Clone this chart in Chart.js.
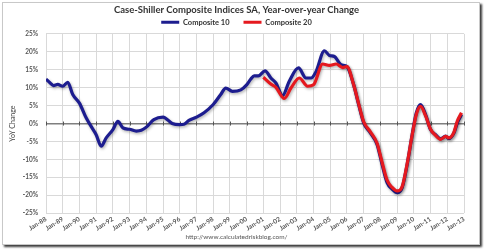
<!DOCTYPE html>
<html lang="en">
<head>
  <meta charset="UTF-8">
  <title>Case-Shiller Composite Indices</title>
  <script src="https://cdn.jsdelivr.net/npm/chart.js"></script>
  <style>
    body {
      margin: 0;
      background: #fff;
    }
    .chart-box {
      position: absolute;
      left: 2px;
      top: 2px;
      width: 476px;
      height: 241px;
      border: 1px solid #c8c8c8;
      box-shadow: 2px 2px 2px #3a3a3a;
      background: #fff;
    }
    canvas {
      width: 100% !important;
      height: 100% !important;
    }
  </style>
</head>
<body>

  <div class="chart-box">
    <canvas id="myChart"></canvas>
  </div>

  <script>
    // year-over-year change (x in decimal years)
    const comp10Dates = [1988.0, 1988.25, 1988.45, 1988.7, 1989.0, 1989.3, 1989.6, 1990.0, 1990.4, 1990.7,
      1991.0, 1991.3, 1991.6, 1992.0, 1992.3, 1992.6, 1993.0, 1993.4, 1993.7, 1994.0,
      1994.45, 1995.0, 1995.55, 1996.0, 1996.25, 1996.55, 1997.0, 1997.45, 1998.0, 1998.45,
      1998.75, 1999.15, 1999.65, 2000.0, 2000.25, 2000.45, 2000.7, 2001.1, 2001.45, 2001.75,
      2002.15, 2002.55, 2003.1, 2003.55, 2003.85, 2004.15, 2004.65, 2004.95, 2005.25, 2005.65,
      2006.0, 2006.4, 2006.7, 2007.0, 2007.4, 2007.8, 2008.1, 2008.4, 2008.7, 2009.0,
      2009.3, 2009.6, 2009.9, 2010.15, 2010.4, 2010.7, 2011.0, 2011.3, 2011.6, 2011.9,
      2012.1, 2012.4, 2012.6, 2012.85];
    const comp10Values = [12.4, 11.3, 10.6, 10.9, 10.4, 11.5, 8.1, 5.7, 1.6, -0.8,
      -3.1, -6.3, -4.0, -1.7, 0.6, -1.2, -1.6, -2.1, -1.9, -1.0,
      1.1, 1.8, 0.0, -0.3, -0.2, 0.9, 1.8, 3.0, 5.3, 8.1,
      9.9, 9.0, 9.4, 10.8, 12.4, 13.3, 13.3, 14.7, 12.7, 11.3,
      7.8, 11.8, 15.5, 12.7, 12.7, 14.5, 20.3, 19.0, 18.7, 16.4,
      15.9, 10.8, 5.3, 0.2, -2.6, -5.8, -11.4, -16.5, -18.3, -19.3,
      -17.9, -11.4, -3.1, 3.0, 5.3, 2.5, -1.7, -3.1, -4.3, -3.5,
      -4.2, -2.6, 0.2, 2.5];

    const comp20Dates = [2001.0, 2001.45, 2001.75, 2002.25, 2002.65, 2003.15, 2003.65, 2004.0, 2004.55, 2004.95,
      2005.35, 2005.75, 2006.0, 2006.4, 2006.7, 2007.0, 2007.4, 2007.8, 2008.1, 2008.4,
      2008.7, 2009.0, 2009.3, 2009.6, 2009.9, 2010.15, 2010.4, 2010.7, 2011.0, 2011.3,
      2011.6, 2011.9, 2012.1, 2012.4, 2012.6, 2012.85];
    const comp20Values = [12.9, 11.0, 10.1, 7.0, 9.9, 12.7, 10.4, 10.8, 16.6, 16.2,
      16.6, 15.6, 15.9, 10.8, 5.5, 0.5, -2.3, -5.5, -10.8, -15.8,
      -17.8, -18.8, -17.6, -11.2, -3.2, 2.6, 4.8, 2.2, -1.6, -3.3,
      -4.4, -3.6, -4.0, -2.4, 0.7, 3.0];

    const seriesNames = ['Composite 10', 'Composite 20'];
    const yTicks = [25, 20, 15, 10, 5, 0, -5, -10, -15, -20, -25];
    const firstYear = 1988;
    const lastYear = 2013;

    const FONT = 'Lato, "Open Sans", sans-serif';

    function toPoints(xs, ys) {
      return xs.map((x, i) => ({ x: x, y: ys[i] }));
    }

    // small tick marks on the zero line, like the Excel category axis
    const zeroTicks = {
      id: 'zeroTicks',
      beforeDatasetsDraw(chart) {
        const ctx = chart.ctx;
        const xs = chart.scales.x;
        const y0 = chart.scales.y.getPixelForValue(0);
        ctx.save();
        ctx.strokeStyle = '#555';
        ctx.lineWidth = 1;
        for (let yr = firstYear; yr <= lastYear; yr++) {
          const px = Math.round(xs.getPixelForValue(yr)) + 0.5;
          ctx.beginPath();
          ctx.moveTo(px, y0 + 2);
          ctx.lineTo(px, y0 - 2);
          ctx.stroke();
        }
        ctx.restore();
      }
    };

    // soft shadow under the lines (Excel glow look)
    const lineShadow = {
      id: 'lineShadow',
      beforeDatasetDraw(chart) {
        const ctx = chart.ctx;
        ctx.save();
        ctx.shadowColor = 'rgba(0,0,0,0.3)';
        ctx.shadowBlur = 3;
        ctx.shadowOffsetX = 1;
        ctx.shadowOffsetY = 1.5;
      },
      afterDatasetDraw(chart) {
        chart.ctx.restore();
      }
    };

    const defaultLabels = Chart.defaults.plugins.legend.labels.generateLabels;

    new Chart(document.getElementById('myChart'), {
      type: 'line',
      data: {
        datasets: [
          {
            label: seriesNames[0],
            data: toPoints(comp10Dates, comp10Values),
            borderColor: '#1d1d8f',
            backgroundColor: '#1d1d8f',
            borderWidth: 3.2,
            pointRadius: 0,
            cubicInterpolationMode: 'monotone',
            order: 1
          },
          {
            label: seriesNames[1],
            data: toPoints(comp20Dates, comp20Values),
            borderColor: '#e5191f',
            backgroundColor: '#e5191f',
            borderWidth: 3.2,
            pointRadius: 0,
            cubicInterpolationMode: 'monotone',
            order: 0
          }
        ]
      },
      options: {
        responsive: true,
        maintainAspectRatio: false,
        animation: false,
        layout: {
          padding: { left: 6, right: 15, top: 1, bottom: 3 }
        },
        plugins: {
          title: {
            display: true,
            text: 'Case-Shiller Composite Indices SA, Year-over-year Change',
            color: '#333',
            font: { family: FONT, size: 9.5, weight: 'bold' },
            padding: { top: 0, bottom: -11 }
          },
          legend: {
            display: true,
            position: 'top',
            maxHeight: 29.5,
            labels: {
              usePointStyle: true,
              pointStyle: 'line',
              pointStyleWidth: 18,
              boxWidth: 18,
              boxHeight: 3,
              padding: 14,
              color: '#333',
              font: { family: FONT, size: 7.5, weight: 'bold' },
              sort: (a, b) => a.datasetIndex - b.datasetIndex,
              generateLabels: (chart) => {
                const items = defaultLabels(chart);
                items.forEach((it) => { it.lineWidth = 3; });
                return items;
              }
            }
          },
          subtitle: {
            display: true,
            position: 'bottom',
            text: 'http://www.calculatedriskblog.com/',
            color: '#555',
            font: { family: FONT, size: 6.5 },
            padding: { top: 0, bottom: 0 }
          },
          tooltip: { enabled: false }
        },
        scales: {
          x: {
            type: 'linear',
            min: firstYear,
            max: lastYear,
            afterBuildTicks: (s) => {
              s.ticks = [];
              for (let yr = firstYear; yr <= lastYear; yr++) s.ticks.push({ value: yr });
            },
            afterFit: (s) => { s.height = 20; },
            ticks: {
              autoSkip: false,
              minRotation: 32,
              maxRotation: 32,
              padding: 2,
              color: '#555',
              font: { family: FONT, size: 6.5, weight: 'bold' },
              callback: (v) => 'Jan-' + String(v % 100).padStart(2, '0')
            },
            grid: { color: '#d9d9d9', lineWidth: 1, drawTicks: false },
            border: { display: false }
          },
          y: {
            min: -25,
            max: 25,
            afterBuildTicks: (s) => {
              s.ticks = yTicks.map(v => ({ value: v }));
            },
            afterFit: (s) => { s.width = 37; },
            title: {
              display: true,
              text: 'YoY Change',
              color: '#444',
              font: { family: FONT, size: 7 },
              padding: { top: 0, bottom: 0 }
            },
            ticks: {
              padding: 8,
              color: '#555',
              font: { family: FONT, size: 6.5, weight: 'bold' },
              callback: (v) => v + '%'
            },
            grid: {
              color: (c) => c.tick && c.tick.value === 0 ? '#7f7f7f' : '#d9d9d9',
              lineWidth: (c) => c.tick && c.tick.value === 0 ? 1.5 : 1,
              drawTicks: false
            },
            border: { display: false }
          }
        }
      },
      plugins: [zeroTicks, lineShadow]
    });
  </script>
</body>
</html>
